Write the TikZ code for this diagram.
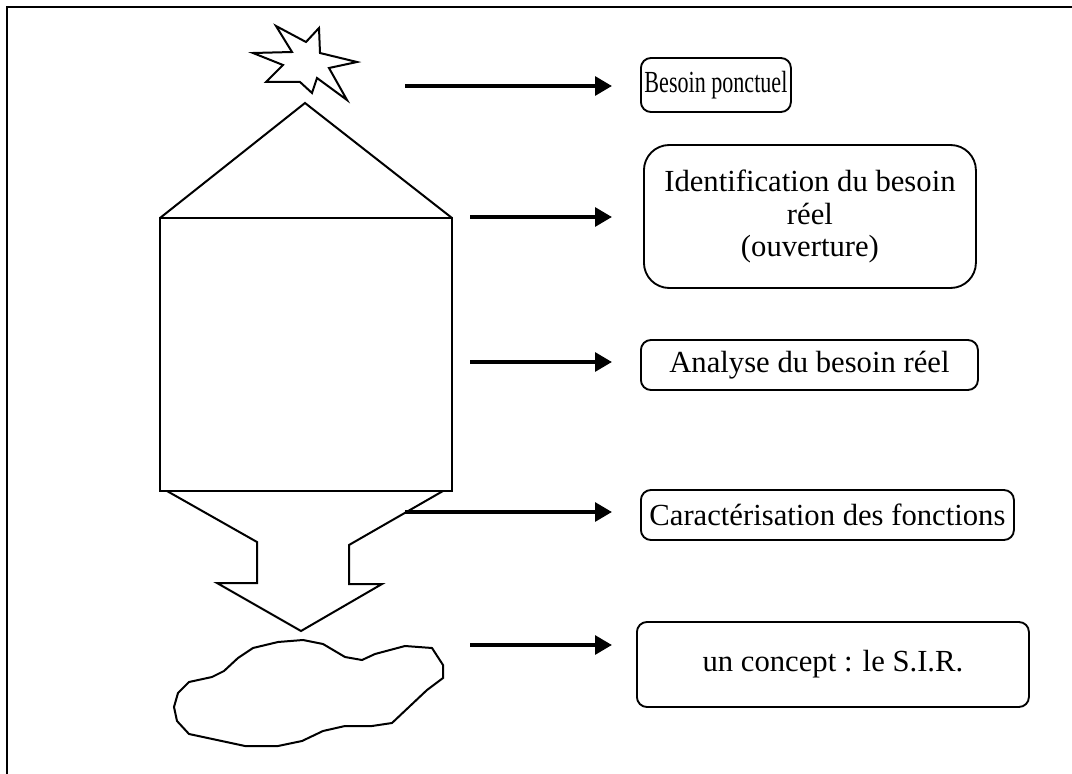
\documentclass[tikz,border=0pt]{standalone}
\usepackage{fontspec}
\usepackage{graphicx}
\setmainfont{Liberation Serif}
\usetikzlibrary{arrows.meta, positioning}

\begin{document}
\begin{tikzpicture}[x=0.75pt, y=-0.75pt,
    shapeline/.style={draw=black, line width=1.5pt, line join=miter},
    stagebox/.style={rectangle, rounded corners=7.5pt, draw=black, line width=1.4pt,
                     inner sep=0pt, align=center, anchor=west,
                     font=\fontsize{23}{24.5}\selectfont},
    flow/.style={-{Triangle[length=12.75pt, width=14pt]}, line width=3pt},
]
\useasboundingbox (0,0) rectangle (1072,774);

% frame (only top and left edges show)
\draw[line width=1.75pt] (1072,7) -- (7,7) -- (7,774);

% star for the one-off need
\draw[shapeline] (276,26) -- (306,42) -- (319,28) -- (320,53) -- (357,62) -- (329,68)
    -- (347,100) -- (317,78) -- (312,93) -- (300,82) -- (266,82) -- (283,65)
    -- (253,53) -- (292,52) -- cycle;

% roof, body and the funnel arrow
\draw[shapeline] (160,218) -- (305,103) -- (452,218);
\draw[shapeline] (160,218) rectangle (452,491);
\draw[shapeline] (167,491) -- (257,542) -- (257,583) -- (217,583) -- (301,631)
    -- (382,584) -- (349,584) -- (349,545) -- (443,491);

% cloud for the concept
\draw[shapeline] (303,640) -- (323,644) -- (345,657) -- (362,660) -- (375,654)
    -- (405,646) -- (432,648) -- (443,665) -- (443,678) -- (427,690) -- (392,723)
    -- (372,726) -- (345,726) -- (323,731) -- (302,741) -- (278,746) -- (245,746)
    -- (189,734) -- (177,721) -- (174,707) -- (178,693) -- (189,682) -- (212,677)
    -- (224,671) -- (238,658) -- (253,648) -- (278,642) -- cycle;

% Right column: the stages
\node[stagebox, minimum width=150*0.75pt, minimum height=54*0.75pt] (ponctuel) at (640,85) {\scalebox{0.72}[1]{Besoin ponctuel}};
\node[stagebox, rounded corners=19pt, minimum width=332*0.75pt, minimum height=143*0.75pt] (identif) at (643,216.5)
    {Identification du besoin\\réel\\(ouverture)};
\node[stagebox, minimum width=337*0.75pt, minimum height=50*0.75pt] (analyse) at (640,365) {Analyse du besoin réel};
\node[stagebox, minimum width=373*0.75pt, minimum height=50*0.75pt] (caract) at (640,515) {Caractérisation des fonctions};
\node[stagebox, minimum width=392*0.75pt, minimum height=85*0.75pt] (concept) at (636,664.5) {un concept : le S.I.R.};

% arrow tails beside the drawing
\coordinate (t1) at (405,86);
\coordinate (t2) at (470,217);
\coordinate (t3) at (470,362);
\coordinate (t4) at (405,512);
\coordinate (t5) at (470,645);

\draw[flow, shorten >=21pt] (t1) -- (t1 -| ponctuel.west);
\draw[flow, shorten >=23.25pt] (t2) -- (t2 -| identif.west);
\draw[flow, shorten >=21pt] (t3) -- (t3 -| analyse.west);
\draw[flow, shorten >=21pt] (t4) -- (t4 -| caract.west);
\draw[flow, shorten >=18pt] (t5) -- (t5 -| concept.west);

\end{tikzpicture}
\end{document}
